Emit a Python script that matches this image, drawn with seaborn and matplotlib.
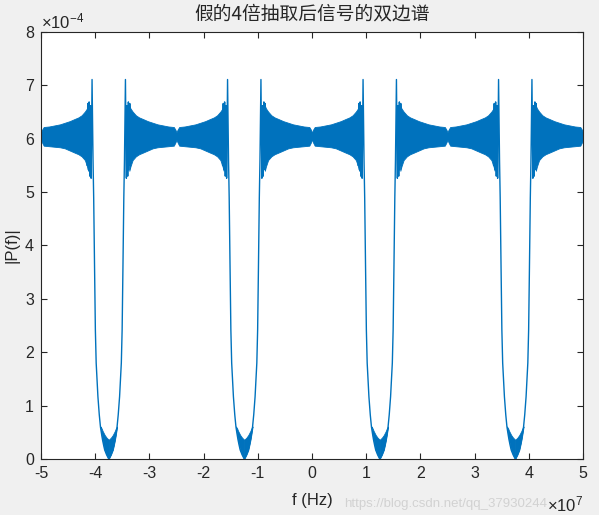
import numpy as np
import matplotlib
matplotlib.use("Agg")
import matplotlib.pyplot as plt
import seaborn as sns

# ---------------- data ----------------
# centres of the four spectral notches (Hz)
dip_centers = [-3.75e7, -1.25e7, 1.25e7, 3.75e7]

# distance from a notch centre (units of 1e7 Hz) and envelope of the ringing band (units of 1e-4)
band_d = [0.38, 0.40, 0.44, 0.50, 0.56, 0.63, 0.72, 0.81, 0.90, 1.00, 1.10, 1.20, 1.23, 1.25]
band_upper = [6.62, 6.57, 6.51, 6.44, 6.40, 6.37, 6.33, 6.30, 6.27, 6.25, 6.23, 6.22, 6.17, 6.12]
band_lower = [5.40, 5.48, 5.60, 5.67, 5.71, 5.74, 5.78, 5.82, 5.84, 5.85, 5.86, 5.87, 5.93, 5.98]

# individual spikes next to the notch walls, then the notch wall itself
spike_d = [0.40, 0.388, 0.375, 0.362, 0.350, 0.338, 0.325]
spike_y = [5.50, 6.66, 5.42, 6.69, 5.30, 6.62, 5.26]
wall_d = [0.308, 0.290, 0.278, 0.262, 0.247, 0.232, 0.200, 0.175, 0.153, 0.130, 0.115, 0.095, 0.075, 0.040, 0.0]
wall_y = [7.11, 5.60, 4.90, 3.60, 2.42, 1.80, 1.17, 0.83, 0.60, 0.45, 0.36, 0.26, 0.17, 0.08, 0.0]

# thick ringing at the bottom of each notch
bottom_d = [0.0, 0.04, 0.075, 0.095, 0.115, 0.13, 0.153]
bottom_upper = [0.36, 0.40, 0.45, 0.49, 0.53, 0.57, 0.61]
bottom_lower = [0.0, 0.08, 0.17, 0.26, 0.36, 0.45, 0.60]

x_ticks = [-5e7, -4e7, -3e7, -2e7, -1e7, 0, 1e7, 2e7, 3e7, 4e7, 5e7]
x_tick_labels = ["-5", "-4", "-3", "-2", "-1", "0", "1", "2", "3", "4", "5"]
y_ticks = [0, 1e-4, 2e-4, 3e-4, 4e-4, 5e-4, 6e-4, 7e-4, 8e-4]
y_tick_labels = ["0", "1", "2", "3", "4", "5", "6", "7", "8"]

title_text = "假的4倍抽取后信号的双边谱"
xlabel_text = "f (Hz)"
ylabel_text = "|P(f)|"
watermark = "https://blog.csdn.net/qq_37930244"

# ---------------- style ----------------
sns.set_style("ticks")
plt.rcParams["font.family"] = ["Liberation Sans", "Noto Sans CJK SC", "DejaVu Sans"]
plt.rcParams["mathtext.fontset"] = "custom"
plt.rcParams["mathtext.rm"] = "Liberation Sans"
plt.rcParams["mathtext.it"] = "Liberation Sans:italic"
plt.rcParams["mathtext.bf"] = "Liberation Sans:bold"

blue = "#0072BD"
dark = "#262626"

fig = plt.figure(figsize=(5.99, 5.15), dpi=100, facecolor="#f0f0f0")
ax = fig.add_axes([41 / 599, 1 - 459 / 515, 542 / 599, 427 / 515])
ax.set_facecolor("white")

bd = np.array(band_d) * 1e7
bu = np.array(band_upper) * 1e-4
bl = np.array(band_lower) * 1e-4
path_d = np.array(spike_d + wall_d) * 1e7
path_y = np.array(spike_y + wall_y) * 1e-4
btd = np.array(bottom_d) * 1e7
btu = np.array(bottom_upper) * 1e-4
btl = np.array(bottom_lower) * 1e-4

for c in dip_centers:
    for side in (-1, 1):
        ax.fill_between(c + side * bd, bl, bu, color=blue, lw=0.6, edgecolor=blue)
        ax.fill_between(c + side * btd, btl, btu, color=blue, lw=0.6, edgecolor=blue)
    xs = np.concatenate([c - path_d, (c + path_d)[::-1]])
    ys = np.concatenate([path_y, path_y[::-1]])
    sns.lineplot(x=xs, y=ys, sort=False, estimator=None, color=blue, lw=1.0, ax=ax)

ax.set_xlim(-5e7, 5e7)
ax.set_ylim(0, 8e-4)
ax.set_xticks(x_ticks)
ax.set_xticklabels(x_tick_labels)
ax.set_yticks(y_ticks)
ax.set_yticklabels(y_tick_labels)
ax.tick_params(direction="in", length=4.5, width=0.8, colors=dark, labelsize=11.5,
               top=True, right=True, labeltop=False, labelright=False)
ax.tick_params(axis="x", pad=5)
ax.tick_params(axis="y", pad=5)
for s in ax.spines.values():
    s.set_visible(True)
    s.set_color(dark)
    s.set_linewidth(0.8)

ax.set_xlabel("")
ax.set_ylabel("")
fig.text(312 / 599, 1 - 500 / 515, xlabel_text, ha="center", va="center", fontsize=12, color=dark)
fig.text(12 / 599, 1 - 245 / 515, ylabel_text, ha="center", va="center", rotation=90, fontsize=12, color=dark)
fig.text(312 / 599, 1 - 14 / 515, title_text, ha="center", va="center", fontsize=13.5,
         color=dark, family=["Noto Sans CJK SC", "DejaVu Sans"])

fig.text(41 / 599, 1 - 28 / 515, r"$\times\mathregular{10^{-4}}$", ha="left", va="baseline",
         fontsize=12, color=dark)
fig.text(344 / 599, 1 - 504 / 515, watermark, ha="left", va="center", fontsize=9.5, color="#d2d2d2")
fig.text(583 / 599, 1 - 511 / 515, r"$\times\mathregular{10^{7}}$", ha="right", va="baseline",
         fontsize=12, color=dark)

fig.savefig("out.png", dpi=100, facecolor=fig.get_facecolor())
